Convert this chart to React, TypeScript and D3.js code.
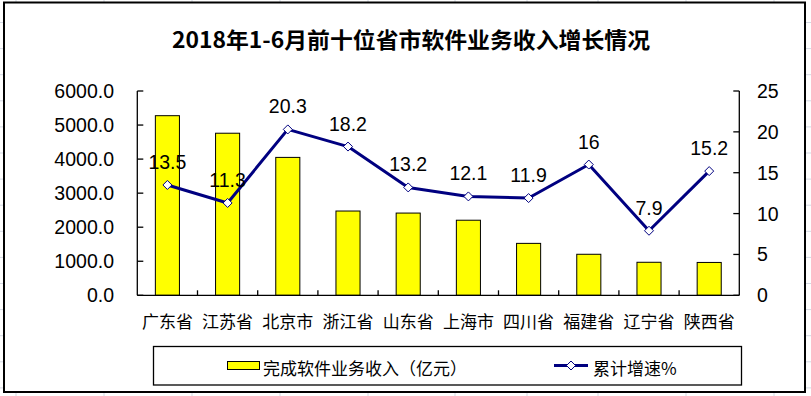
import React from 'react';
import * as d3 from 'd3';

// chart data
const categories = ['广东省', '江苏省', '北京市', '浙江省', '山东省', '上海市', '四川省', '福建省', '辽宁省', '陕西省'];
const revenue = [5275, 4760, 4050, 2475, 2415, 2205, 1525, 1205, 970, 965];
const growth = [13.5, 11.3, 20.3, 18.2, 13.2, 12.1, 11.9, 16, 7.9, 15.2];
const leftTicks = [0, 1000, 2000, 3000, 4000, 5000, 6000];
const rightTicks = [0, 5, 10, 15, 20, 25];

const W = 811;
const H = 396;
const plot = { left: 137.3, right: 739.3, top: 91, bottom: 295.3 };

const cjk = '"Noto Sans CJK SC", "Noto Sans", sans-serif';
const num = '"Liberation Sans", Arial, sans-serif';
const navy = '#000080';

export default function App() {
  const x = d3.scaleBand<string>()
    .domain(categories)
    .range([plot.left, plot.right])
    .paddingInner(0.6)
    .paddingOuter(0.3);
  const step = x.step();
  const bw = x.bandwidth();
  const cx = (c: string) => (x(c) || 0) + bw / 2;

  const yL = d3.scaleLinear().domain([0, 6000]).range([plot.bottom, plot.top]);
  const yR = d3.scaleLinear().domain([0, 25]).range([plot.bottom, plot.top]);

  const line = d3.line<number>()
    .x((_, i) => cx(categories[i]))
    .y(d => yR(d));

  // spreadsheet cell grid behind the chart
  const gridRows = d3.range(22.5, H, 26.1);
  const gridCols = [16, 104, 192, 280, 368, 455, 527, 598, 686, 774];

  const diamond = (px: number, py: number, r = 4.5) =>
    `M${px},${py - r}L${px + r},${py}L${px},${py + r}L${px - r},${py}Z`;

  const boundaries = categories.slice(1).map(c => (x(c) || 0) - (step - bw) / 2);

  return (
    <svg width={W} height={H} style={{ position: 'absolute', left: 0, top: 0, background: '#fff' }}>
      <g stroke="#d4d9e4" strokeWidth={1}>
        {gridRows.map(r => <line key={'r' + r} x1={0} x2={W} y1={r} y2={r} />)}
        {gridCols.map(c => <line key={'c' + c} x1={c} x2={c} y1={0} y2={H} />)}
      </g>

      <rect x={4} y={2.5} width={801} height={389.5} fill="#fff" stroke="#000" strokeWidth={2} />

      <text x={411} y={47.5} textAnchor="middle" fontFamily={cjk} fontWeight={700} fontSize={22}
        textLength={478} lengthAdjust="spacingAndGlyphs" fill="#000">
        2018年1-6月前十位省市软件业务收入增长情况
      </text>

      {/* bars */}
      {categories.map((c, i) => (
        <rect key={c} x={x(c)} y={yL(revenue[i])} width={bw} height={plot.bottom - yL(revenue[i])}
          fill="#ffff00" stroke="#000" strokeWidth={1} />
      ))}

      {/* axes */}
      <g stroke="#000" strokeWidth={1.3} fill="none">
        <line x1={plot.left} x2={plot.left} y1={plot.top} y2={plot.bottom} />
        <line x1={plot.right} x2={plot.right} y1={plot.top} y2={plot.bottom} />
        <line x1={plot.left} x2={plot.right} y1={plot.bottom} y2={plot.bottom} />
        {leftTicks.map(t => <line key={'lt' + t} x1={plot.left} x2={plot.left + 6} y1={yL(t)} y2={yL(t)} />)}
        {rightTicks.map(t => <line key={'rt' + t} x1={plot.right - 6} x2={plot.right} y1={yR(t)} y2={yR(t)} />)}
        {boundaries.map(b => <line key={'xb' + b} x1={b} x2={b} y1={plot.bottom - 5} y2={plot.bottom} />)}
      </g>

      <g fontFamily={num} fontSize={19.5} fill="#000">
        {leftTicks.map(t => (
          <text key={'ll' + t} x={114} y={yL(t) + 7} textAnchor="end">{t.toFixed(1)}</text>
        ))}
        {rightTicks.map(t => (
          <text key={'rl' + t} x={757} y={yR(t) + 7} textAnchor="start">{t}</text>
        ))}
      </g>

      <g fontFamily={cjk} fontSize={17} fill="#000">
        {categories.map(c => (
          <text key={'cl' + c} x={cx(c)} y={328} textAnchor="middle">{c}</text>
        ))}
      </g>

      {/* growth line */}
      <path d={line(growth) || ''} fill="none" stroke={navy} strokeWidth={3} strokeLinejoin="round" />
      {growth.map((g, i) => (
        <path key={'m' + i} d={diamond(cx(categories[i]), yR(g))} fill="#fff" stroke={navy} strokeWidth={1} />
      ))}
      <g fontFamily={num} fontSize={19.5} fill="#000" textAnchor="middle">
        {growth.map((g, i) => (
          <text key={'dl' + i} x={cx(categories[i])} y={yR(g) - 16}>{g}</text>
        ))}
      </g>

      {/* legend */}
      <rect x={153.5} y={346.5} width={588} height={38.5} fill="#fff" stroke="#000" strokeWidth={1.3} />
      <rect x={227.5} y={361.5} width={32} height={8} fill="#ffff00" stroke="#000" strokeWidth={1} />
      <text x={263} y={375} fontFamily={cjk} fontSize={17} fill="#000">完成软件业务收入（亿元）</text>
      <line x1={554} x2={588} y1={365.5} y2={365.5} stroke={navy} strokeWidth={3} />
      <path d={diamond(571, 365.5)} fill="#fff" stroke={navy} strokeWidth={1} />
      <text x={593} y={375} fontFamily={cjk} fontSize={17} fill="#000">累计增速%</text>
    </svg>
  );
}
